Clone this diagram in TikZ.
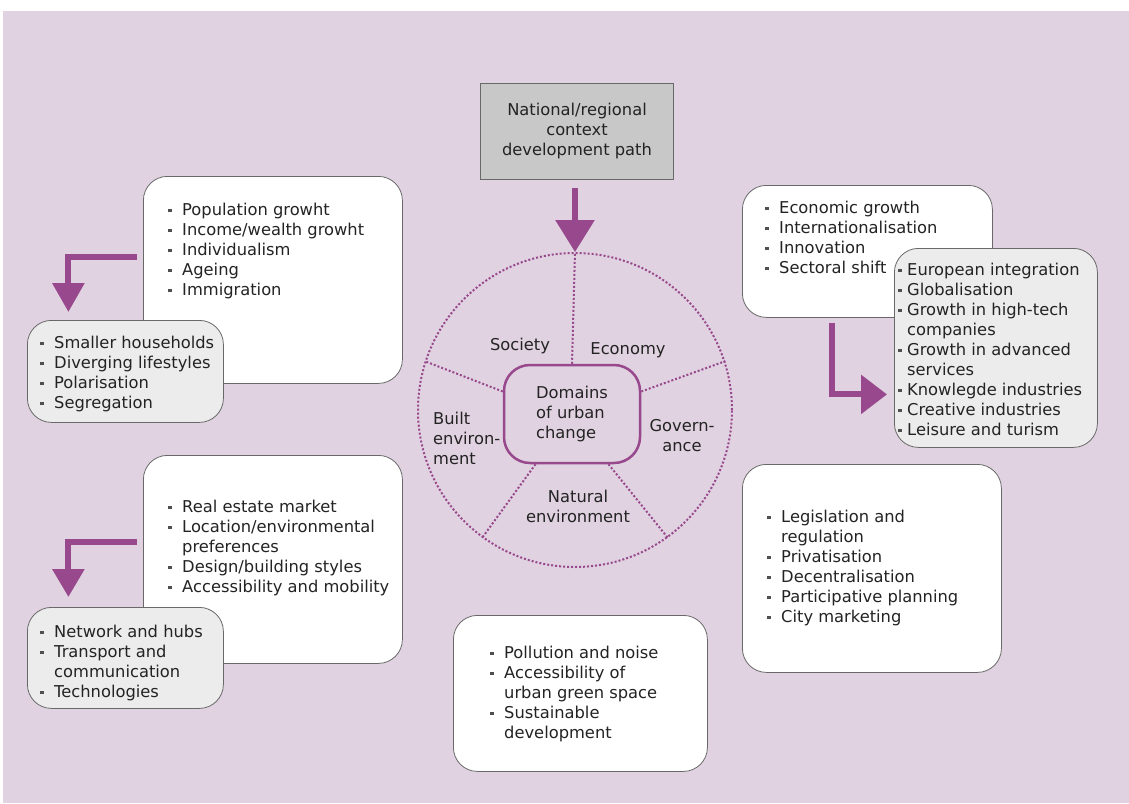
\documentclass[tikz,border=0pt]{standalone}
\usepackage{fontspec}
\setmainfont{DejaVu Sans}
\usetikzlibrary{arrows.meta,calc}
\definecolor{bg}{RGB}{224,210,224}
\definecolor{plum}{RGB}{152,72,140}
\definecolor{txt}{RGB}{35,35,35}
\definecolor{greybox}{RGB}{236,236,236}
\definecolor{topbox}{RGB}{200,200,200}
\definecolor{edge}{RGB}{105,105,105}
\newcommand\bsq{\raisebox{3.2pt}{\textcolor{txt!80}{\rule{3.4pt}{3.4pt}}}}
\newcommand\bu{\makebox[14pt][l]{\bsq}}
\newcommand\cu{\hspace*{14pt}}
\newcommand\bn{\makebox[9pt][l]{\bsq}}
\newcommand\cn{\hspace*{9pt}}
\tikzset{
  panel/.style={draw=edge, line width=0.8pt, fill=white, rounded corners=24pt, inner sep=0pt, anchor=north west},
  subpanel/.style={panel, fill=greybox},
  lst/.style={align=left, anchor=north west, inner sep=0pt, font=\fontsize{16.3}{20}\selectfont, text=txt},
  lbl/.style={inner sep=0pt, font=\fontsize{16.3}{20}\selectfont, text=txt},
  pipe/.style={draw=plum, line width=6pt},
  spoke/.style={draw=plum, line width=2pt, dash pattern=on 2pt off 2pt},
}
\begin{document}
\begin{tikzpicture}[x=1pt,y=-1pt]
\useasboundingbox (0,0) rectangle (1129,803);
\fill[white] (0,0) rectangle (1129,803);
\fill[bg] (3,11) rectangle (1129,803);

% top box
\node[draw=edge, fill=topbox, line width=0.8pt, minimum width=193pt, minimum height=96pt, inner sep=0pt, align=center, font=\fontsize{16.3}{20}\selectfont, text=txt] (top) at (577,131) {National/regional\\context\\development path};

% ring and domains
\node[circle, spoke, minimum size=314pt, inner sep=0pt] (ring) at (575,410) {};
\node[draw=plum, line width=2.5pt, rounded corners=26pt, minimum width=136pt, minimum height=98pt, inner sep=0pt, align=left, font=\fontsize{16.3}{20}\selectfont, text=txt] (dom) at (572,414) {Domains\\of urban\\change};
\foreach \a in {90,18,162,-54,-126}
  \draw[spoke] (dom.\a) -- (ring.\a);

\node[lbl] (lsoc) at (520,346) {Society};
\node[lbl] (leco) at (628,350) {Economy};
\node[lbl, align=left, anchor=west] (lbui) at (433,438) {Built\\environ-\\ment};
\node[lbl, align=center] (lgov) at (682,436) {Govern-\\ance};
\node[lbl, align=center] (lnat) at (578,506) {Natural\\environment};

\draw[pipe, -{Triangle[width=38pt,length=32pt]}] ([yshift=-9pt]top.south -| ring.north) -- (ring.north);

% society
\node[panel, minimum width=259pt, minimum height=207pt] (soc) at (143,176) {};
\node[lst] (tsoc) at (168,203) {\bu Population growht\\\bu Income/wealth growht\\\bu Individualism\\\bu Ageing\\\bu Immigration};
\node[subpanel, minimum width=196pt, minimum height=102pt] (socg) at (27,320) {};
\node[lst] (tsocg) at (40,336) {\bu Smaller households\\\bu Diverging lifestyles\\\bu Polarisation\\\bu Segregation};
\draw[pipe, -{Triangle[width=31pt,length=29pt]}] ([xshift=-6pt,yshift=22.5pt]soc.west) -| ([xshift=-57pt,yshift=8pt]socg.north);

% built environment
\node[panel, minimum width=259pt, minimum height=208pt] (bui) at (143,455) {};
\node[lst] (tbui) at (168,500) {\bu Real estate market\\\bu Location/environmental\\\cu preferences\\\bu Design/building styles\\\bu Accessibility and mobility};
\node[subpanel, minimum width=196pt, minimum height=101pt] (buig) at (27,607) {};
\node[lst] (tbuig) at (40,625) {\bu Network and hubs\\\bu Transport and\\\cu communication\\\bu Technologies};
\draw[pipe, -{Triangle[width=31pt,length=28pt]}] ([xshift=-6pt,yshift=17pt]bui.west) -| ([xshift=-57pt,yshift=10pt]buig.north);

% economy
\node[panel, minimum width=250pt, minimum height=132pt] (eco) at (742,185) {};
\node[lst] (teco) at (765,201) {\bu Economic growth\\\bu Internationalisation\\\bu Innovation\\\bu Sectoral shift};
\node[subpanel, minimum width=203pt, minimum height=199pt] (ecog) at (894,248) {};
\node[lst] (tecog) at (898,263) {\bn European integration\\\bn Globalisation\\\bn Growth in high-tech\\\cn companies\\\bn Growth in advanced\\\cn services\\\bn Knowlegde industries\\\bn Creative industries\\\bn Leisure and turism};
\draw[pipe, -{Triangle[width=38pt,length=26pt]}] ([xshift=-35pt,yshift=-5pt]eco.south) |- ([xshift=-7pt,yshift=-46.5pt]ecog.west);

% governance
\node[panel, minimum width=259pt, minimum height=208pt] (gov) at (742,464) {};
\node[lst] (tgov) at (767,510) {\bu Legislation and\\\cu regulation\\\bu Privatisation\\\bu Decentralisation\\\bu Participative planning\\\bu City marketing};

% natural environment
\node[panel, minimum width=254pt, minimum height=156pt] (nat) at (453,615) {};
\node[lst] (tnat) at (490,646) {\bu Pollution and noise\\\bu Accessibility of\\\cu urban green space\\\bu Sustainable\\\cu development};
\end{tikzpicture}
\end{document}
